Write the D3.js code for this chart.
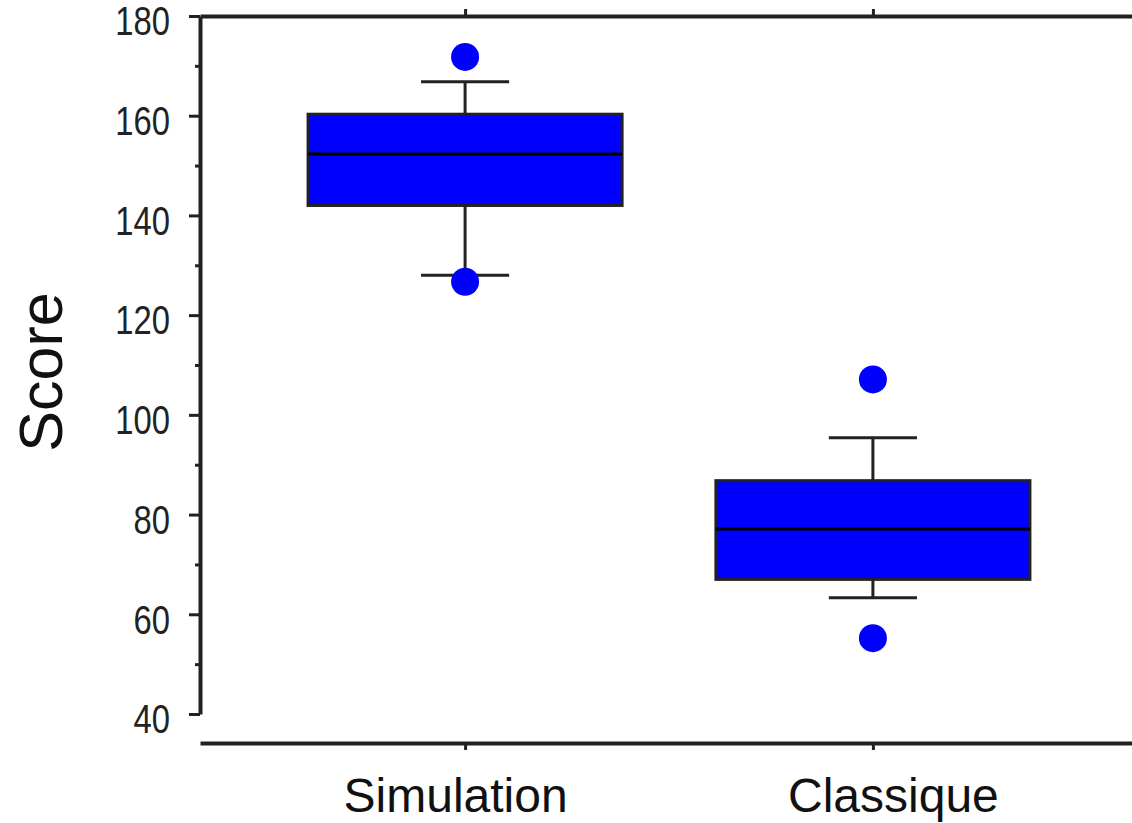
<!DOCTYPE html>
<html>
<head>
<meta charset="utf-8">
<script src="https://cdn.jsdelivr.net/npm/d3@7"></script>
<style>
  html, body { margin: 0; padding: 0; background: #fff; }
  svg { display: block; }
</style>
</head>
<body>
<svg id="chart" width="1132" height="823"></svg>
<script>
// ---- data ----
const categories = ["Simulation", "Classique"];
const q1Values = [142.0, 67.0];
const medianValues = [152.3, 77.1];
const q3Values = [160.3, 86.8];
const whiskerLow = [128.0, 63.3];
const whiskerHigh = [166.8, 95.4];
const outlierValues = [[171.8, 126.7], [107.1, 55.2]];
const yMajorTicks = [40, 60, 80, 100, 120, 140, 160, 180];
const yMinorTicks = [50, 70, 90, 110, 130, 150, 170];
const yLabel = "Score";

// ---- layout ----
const svg = d3.select("#chart");
const W = 1132, H = 823;
svg.append("rect").attr("width", W).attr("height", H).attr("fill", "#fff");

const left = 200, topY = 16, bottomY = 714, xAxisY = 743;
const y = d3.scaleLinear().domain([40, 180]).range([bottomY, topY]);
const x = d3.scalePoint().domain(categories).range([left, 1138]).padding(0.65);
const step = x.step();
const boxW = step * 0.77;
const capW = step * 0.216;
const labelShift = { "Simulation": -10, "Classique": 20 };

const axisColor = "#222";
const blue = "#0000ff";

// minor ticks
const gMinor = svg.append("g").attr("transform", `translate(${left},0)`)
  .call(d3.axisLeft(y).tickValues(yMinorTicks).tickSize(5).tickFormat(""));
gMinor.select(".domain").remove();
gMinor.selectAll(".tick line").attr("stroke", axisColor).attr("stroke-width", 3);

// major y axis
const gY = svg.append("g").attr("transform", `translate(${left},0)`)
  .call(d3.axisLeft(y).tickValues(yMajorTicks).tickSize(11).tickPadding(19).tickSizeOuter(0));
gY.select(".domain").attr("stroke", axisColor).attr("stroke-width", 4);
gY.selectAll(".tick line").attr("stroke", axisColor).attr("stroke-width", 3);
gY.selectAll(".tick text")
  .attr("x", 0)
  .attr("dy", "0.32em")
  .attr("transform", "translate(-30,6) scale(0.82,1)")
  .attr("fill", "#222")
  .style("font-family", "'Liberation Sans', Arial, sans-serif")
  .style("font-size", "40px");

// top frame line with ticks
const gTop = svg.append("g").attr("transform", `translate(0,${topY})`)
  .call(d3.axisTop(x).tickSize(7).tickSizeOuter(0).tickFormat(""));
gTop.select(".domain").attr("stroke", axisColor).attr("stroke-width", 4);
gTop.selectAll(".tick line").attr("stroke", axisColor).attr("stroke-width", 3);

// bottom axis
const gX = svg.append("g").attr("transform", `translate(0,${xAxisY})`)
  .call(d3.axisBottom(x).tickSize(7).tickSizeOuter(0).tickPadding(28));
gX.select(".domain").attr("stroke", axisColor).attr("stroke-width", 4);
gX.selectAll(".tick line").attr("stroke", axisColor).attr("stroke-width", 3);
gX.selectAll(".tick text")
  .attr("dx", d => labelShift[d] || 0)
  .attr("fill", "#111")
  .style("font-family", "'Liberation Sans', Arial, sans-serif")
  .style("font-size", "48px");

// y label
svg.append("text")
  .attr("transform", `translate(62,372) rotate(-90)`)
  .attr("text-anchor", "middle")
  .attr("fill", "#111")
  .style("font-family", "'Liberation Sans', Arial, sans-serif")
  .style("font-size", "61px")
  .text(yLabel);

// boxes
const data = categories.map((c, i) => ({
  c, q1: q1Values[i], med: medianValues[i], q3: q3Values[i],
  lo: whiskerLow[i], hi: whiskerHigh[i], out: outlierValues[i]
}));

const g = svg.append("g");
const groups = g.selectAll("g.box").data(data).join("g").attr("class", "box");

// whiskers
groups.append("line")
  .attr("x1", d => x(d.c)).attr("x2", d => x(d.c))
  .attr("y1", d => y(d.q3)).attr("y2", d => y(d.hi))
  .attr("stroke", "#222").attr("stroke-width", 3);
groups.append("line")
  .attr("x1", d => x(d.c)).attr("x2", d => x(d.c))
  .attr("y1", d => y(d.q1)).attr("y2", d => y(d.lo))
  .attr("stroke", "#222").attr("stroke-width", 3);
// caps
groups.append("line")
  .attr("x1", d => x(d.c) - capW / 2).attr("x2", d => x(d.c) + capW / 2)
  .attr("y1", d => y(d.hi)).attr("y2", d => y(d.hi))
  .attr("stroke", "#222").attr("stroke-width", 3);
groups.append("line")
  .attr("x1", d => x(d.c) - capW / 2).attr("x2", d => x(d.c) + capW / 2)
  .attr("y1", d => y(d.lo)).attr("y2", d => y(d.lo))
  .attr("stroke", "#222").attr("stroke-width", 3);
// box
groups.append("rect")
  .attr("x", d => x(d.c) - boxW / 2)
  .attr("width", boxW)
  .attr("y", d => y(d.q3))
  .attr("height", d => y(d.q1) - y(d.q3))
  .attr("fill", blue)
  .attr("stroke", "#222").attr("stroke-width", 3);
// median
groups.append("line")
  .attr("x1", d => x(d.c) - boxW / 2).attr("x2", d => x(d.c) + boxW / 2)
  .attr("y1", d => y(d.med)).attr("y2", d => y(d.med))
  .attr("stroke", "#000").attr("stroke-width", 3);
// outliers
groups.selectAll("circle").data(d => d.out.map(v => ({ c: d.c, v }))).join("circle")
  .attr("cx", d => x(d.c))
  .attr("cy", d => y(d.v))
  .attr("r", 14)
  .attr("fill", blue);
</script>
</body>
</html>
